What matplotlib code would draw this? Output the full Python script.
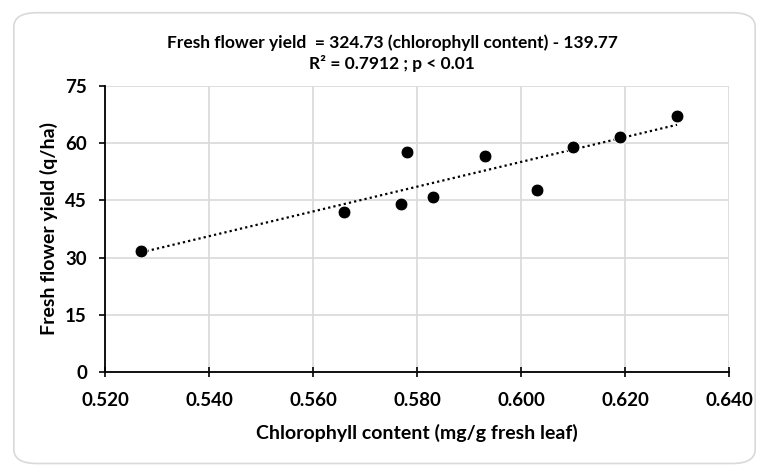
import matplotlib

matplotlib.use("Agg")
import matplotlib.pyplot as plt
from matplotlib.patches import FancyBboxPatch

plt.rcParams["font.family"] = ["Lato", "DejaVu Sans"]

# chlorophyll content (mg/g fresh leaf) vs fresh flower yield (q/ha)
chlorophyll = [0.527, 0.566, 0.577, 0.578, 0.583, 0.593, 0.603, 0.610, 0.619, 0.630]
flower_yield = [31.8, 41.9, 44.0, 57.6, 45.8, 56.7, 47.6, 59.1, 61.5, 67.2]

# regression reported in the title
slope, intercept = 324.73, -139.77

x_ticks = [0.520, 0.540, 0.560, 0.580, 0.600, 0.620, 0.640]
y_ticks = [0, 15, 30, 45, 60, 75]

fig = plt.figure(figsize=(7.69, 4.72), dpi=100)
fig.patches.append(FancyBboxPatch((0.018, 0.018), 0.964, 0.955,
                                  boxstyle="round,pad=0,rounding_size=0.03",
                                  transform=fig.transFigure, fc="white",
                                  ec="#d9d9d9", lw=1.2, zorder=-5))
ax = fig.add_axes([0.1365, 0.212, 0.8115, 0.606])
ax.patch.set_alpha(0)

x0, x1 = min(chlorophyll), max(chlorophyll)
ax.plot([x0, x1], [slope * x0 + intercept, slope * x1 + intercept],
        ls=(0, (1, 1.4)), color="black", lw=1.6, zorder=2)
ax.scatter(chlorophyll, flower_yield, s=85, color="black", edgecolor="white",
           lw=0.6, zorder=3)

ax.set_xlim(0.520, 0.640)
ax.set_ylim(0, 75)
ax.set_xticks(x_ticks)
ax.set_xticklabels([f"{v:.3f}" for v in x_ticks])
ax.set_yticks(y_ticks)
ax.grid(True, color="#d9d9d9", lw=1.2, zorder=0)
ax.set_axisbelow(True)
for side in ("top", "right"):
    ax.spines[side].set_visible(False)
for side in ("left", "bottom"):
    ax.spines[side].set_linewidth(1.3)
ax.tick_params(axis="x", direction="inout", length=7, width=1.2,
               labelsize=13.5, pad=11)
ax.tick_params(axis="y", direction="out", length=4, width=1.2,
               labelsize=13.5, pad=9)
for lbl in ax.get_xticklabels() + ax.get_yticklabels():
    lbl.set_fontweight("bold")

ax.set_xlabel("Chlorophyll content (mg/g fresh leaf)", fontsize=14,
              fontweight="bold", labelpad=11)
ax.set_ylabel("Fresh flower yield (q/ha)", fontsize=14, fontweight="bold",
              labelpad=5)
fig.text(0.51, 0.887, "Fresh flower yield  = 324.73 (chlorophyll content) - 139.77\n"
         "R² = 0.7912 ; p < 0.01", ha="center", va="center", fontsize=12.5,
         fontweight="bold", linespacing=1.3)

fig.savefig("out.png", dpi=100, facecolor="white")
